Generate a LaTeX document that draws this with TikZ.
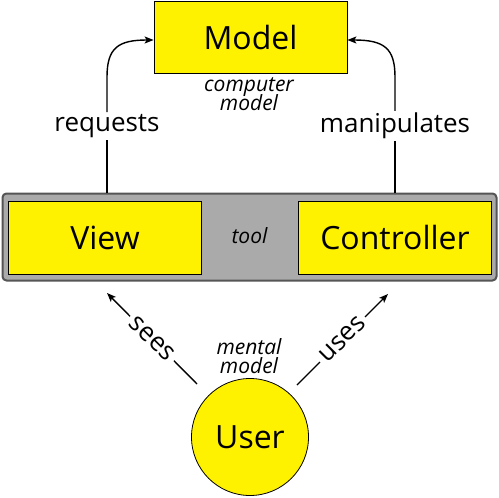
\documentclass[tikz,border=0pt]{standalone}
\usepackage{fontspec}
\setmainfont{Open Sans}
\usetikzlibrary{arrows.meta}
\begin{document}
\begin{tikzpicture}[x=1pt,y=-1pt,
  box/.style={draw=black,line width=0.8pt,fill=yellow,inner sep=0pt,font=\fontsize{32}{36}\selectfont},
  lbl/.style={font=\fontsize{26}{30}\selectfont,inner sep=2pt},
  note/.style={font=\itshape\fontsize{21}{21}\selectfont,align=center,inner sep=0pt},
  conn/.style={line width=1.4pt,line cap=butt},
  tip/.style={-{Stealth[length=9pt,width=7pt,inset=2pt]}}
]
\useasboundingbox (0,0) rectangle (499,498);
% tool
\node[draw={rgb,255:red,85;green,85;blue,85},line width=2pt,fill={rgb,255:red,170;green,170;blue,170},rounded corners=4pt,minimum width=494pt,minimum height=87pt,inner sep=0pt] (tool) at (249.5,237) {};
\node[note] (tooltxt) at (249.5,236) {tool};
\node[box,minimum width=193pt,minimum height=73pt] (view) at (105,237.5) {View};
\node[box,minimum width=193pt,minimum height=73pt] (ctrl) at (395,237.5) {Controller};
% model
\node[box,minimum width=193pt,minimum height=72pt] (model) at (250.5,37) {Model};
\node[note] (cm) at (249,94) {computer\\[-2pt]model};
% requests
\node[lbl] (req) at (107,126) {requests};
\coordinate (reqb) at (107,193);
\draw[conn] (reqb) -- (req.south);
\draw[conn,tip] (req.north) -- (107,77) .. controls (107,48) and (118,40) .. (model.west |- 0,40);
% manipulates
\node[lbl] (man) at (395,126) {manipulates};
\coordinate (manb) at (395,193);
\draw[conn] (manb) -- (man.south);
\draw[conn,tip] (man.north) -- (395,77) .. controls (395,48) and (384,40) .. (model.east |- 0,40);
% user
\node[circle,draw=black,line width=0.8pt,fill=yellow,minimum size=117pt,inner sep=0pt,font=\fontsize{32}{36}\selectfont] (user) at (250,437) {User};
\node[note] (mm) at (249,356) {mental\\[-2pt]model};
\coordinate (seestip) at (107,293);
\coordinate (usestip) at (388,294);
\draw[conn,tip] (197,384) -- node[lbl,fill=white,rotate=-45,inner sep=4pt] (sees) {sees} (seestip);
\draw[conn,tip] (297,385) -- node[lbl,fill=white,rotate=45,inner sep=4pt] (uses) {uses} (usestip);
\end{tikzpicture}
\end{document}
